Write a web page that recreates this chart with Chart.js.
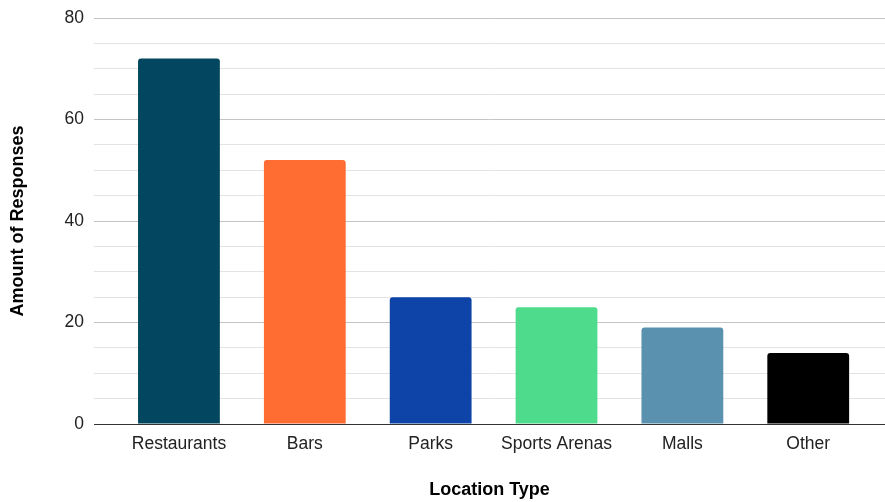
<!DOCTYPE html>
<html>
<head>
<meta charset="utf-8">
<title>Location Type</title>
<script src="https://cdn.jsdelivr.net/npm/chart.js@4.4.1/dist/chart.umd.min.js"></script>
<style>
    html, body { margin: 0; padding: 0; background: #ffffff; }
    .chart-wrap { position: relative; width: 885px; height: 502px; }
</style>
</head>
<body>
<div class="chart-wrap">
    <canvas id="locationChart"></canvas>
</div>
<script>
const locations = ['Restaurants', 'Bars', 'Parks', 'Sports Arenas', 'Malls', 'Other'];
const responses = [72, 52, 25, 23, 19, 14];
const barColors = ['#024660', '#ff6d33', '#0e44a8', '#4edb8b', '#5991ae', '#000000'];
const yTickLabels = [0, 20, 40, 60, 80];

const FONT = '"Liberation Sans", Arial, sans-serif';

// bars sit on a numeric x axis so the gridlines can run past the outer bars
const points = responses.map((v, i) => ({ x: i, y: v }));

function gridColor(ctx) {
    const v = ctx.tick.value;
    if (v === 0) return '#333333';
    return yTickLabels.includes(v) ? '#c4c4c4' : '#e3e3e3';
}

const ctx = document.getElementById('locationChart').getContext('2d');
new Chart(ctx, {
    type: 'bar',
    data: {
        datasets: [{
            label: 'Amount of Responses',
            data: points,
            backgroundColor: barColors,
            borderRadius: 3,
            borderSkipped: 'bottom',
            barPercentage: 0.65,
            categoryPercentage: 1
        }]
    },
    options: {
        responsive: true,
        maintainAspectRatio: false,
        animation: false,
        layout: { padding: { top: 18, left: 0, right: 0, bottom: 0 } },
        plugins: {
            legend: { display: false },
            tooltip: { enabled: false }
        },
        scales: {
            x: {
                type: 'linear',
                offset: false,
                min: -0.675,
                max: 5.61,
                afterBuildTicks: scale => {
                    scale.ticks = locations.map((_, i) => ({ value: i }));
                },
                afterFit: scale => {
                    scale.height = 78;
                    scale.paddingLeft = 0;
                    scale.paddingRight = 0;
                },
                grid: { display: false, drawTicks: false, offset: false },
                border: { display: true, color: '#333333', width: 1 },
                ticks: {
                    autoSkip: false,
                    maxRotation: 0,
                    padding: 10,
                    color: '#222222',
                    font: { family: FONT, size: 17.5 },
                    callback: value => locations[value] ?? ''
                },
                title: {
                    display: true,
                    text: 'Location Type',
                    color: '#000000',
                    padding: { top: 0, bottom: 1 },
                    font: { family: FONT, size: 18, weight: 'bold' }
                }
            },
            y: {
                min: 0,
                max: 80,
                afterFit: scale => {
                    scale.width = 94;
                    scale.paddingTop = 0;
                    scale.paddingBottom = 0;
                },
                grid: { color: gridColor, lineWidth: 1, drawTicks: false },
                border: { display: false },
                ticks: {
                    stepSize: 5,
                    autoSkip: false,
                    padding: 10,
                    color: '#222222',
                    font: { family: FONT, size: 17.5 },
                    callback: value => yTickLabels.includes(value) ? value : ''
                },
                title: {
                    display: true,
                    text: 'Amount of Responses',
                    color: '#000000',
                    padding: { top: 7, bottom: 0 },
                    font: { family: FONT, size: 18, weight: 'bold' }
                }
            }
        }
    }
});
</script>
</body>
</html>
